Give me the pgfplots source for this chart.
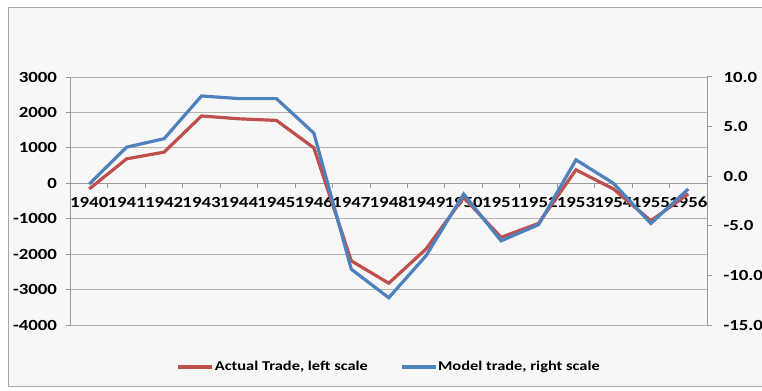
\documentclass[border=0pt]{standalone}
\usepackage{pgfplots}
\pgfplotsset{compat=1.18}
\usepackage{fontspec}
\setmainfont{Carlito}[FakeStretch=1.22]
\definecolor{xred}{RGB}{192,80,77}
\definecolor{xblue}{RGB}{79,129,189}
\pgfplotstableread{
x actual model
0 -160 -0.79
1 690 2.93
2 880 3.78
3 1900 8.09
4 1820 7.82
5 1775 7.82
6 1000 4.34
7 -2190 -9.38
8 -2820 -12.25
9 -1850 -8.0
10 -400 -1.8
11 -1525 -6.51
12 -1133 -4.89
13 380 1.65
14 -160 -0.71
15 -1057 -4.76
16 -300 -1.29
}\datatable
\begin{document}
\begin{tikzpicture}[x=1bp,y=1bp]
\path[use as bounding box] (0,0) rectangle (762,390);
\clip (0,0) rectangle (762,390);
\draw[draw=black!35, fill=black!3, line width=1bp] (8.5,4) rectangle (790,382.5);
\pgfplotsset{
  every axis/.append style={
    at={(70.5bp,65bp)}, anchor=south west, scale only axis,
    width=636.5bp, height=248bp, xmin=-0.5, xmax=16.5,
    axis line style={black!40, line width=1bp},
    every tick/.style={black!40, line width=1bp},
    major tick length=5bp,
    tick align=outside,
    ticklabel style={font=\bfseries\fontsize{15.5}{17}\selectfont},
    /pgf/number format/assume math mode=true,
    /pgf/number format/1000 sep={},
  }
}
\begin{axis}[
  ymin=-4000, ymax=3000,
  axis y line*=left, axis x line*=middle,
  ytick={-4000,-3000,...,3000},
  y tick label style={xshift=-5bp},
  ymajorgrids, major grid style={black!30, line width=1bp},
  xtick={0.5,1.5,...,15.5},
  xticklabels={},
  extra x ticks={0,...,16},
  extra x tick labels={1940,1941,1942,1943,1944,1945,1946,1947,1948,1949,1950,1951,1952,1953,1954,1955,1956},
  extra x tick style={major tick length=0pt, tick label style={yshift=-10.5bp}},
  legend columns=2,
  legend style={at={(0.5,-0.169)}, anchor=center, draw=none, fill=none,
    font=\bfseries\fontsize{13.5}{15}\selectfont,
    /tikz/every even column/.append style={column sep=31bp},
    nodes={inner xsep=1bp}},
  legend image code/.code={\draw[#1] (0bp,0bp) -- (34bp,0bp);},
]
\addplot[xred, line width=3.2bp] table[x=x,y=actual]{\datatable};
\addlegendentry{Actual Trade, left scale}
\addlegendimage{xblue, line width=3.2bp}
\addlegendentry{Model trade, right scale}
\end{axis}
\begin{axis}[
  ymin=-15, ymax=10,
  axis y line*=right, axis x line=none,
  ytick={-15,-10,...,10},
  y tick label style={xshift=8bp},
  yticklabel style={/pgf/number format/.cd, fixed, fixed zerofill, precision=1},
]
\addplot[xblue, line width=3.2bp] table[x=x,y=model]{\datatable};
\end{axis}
\end{tikzpicture}
\end{document}
